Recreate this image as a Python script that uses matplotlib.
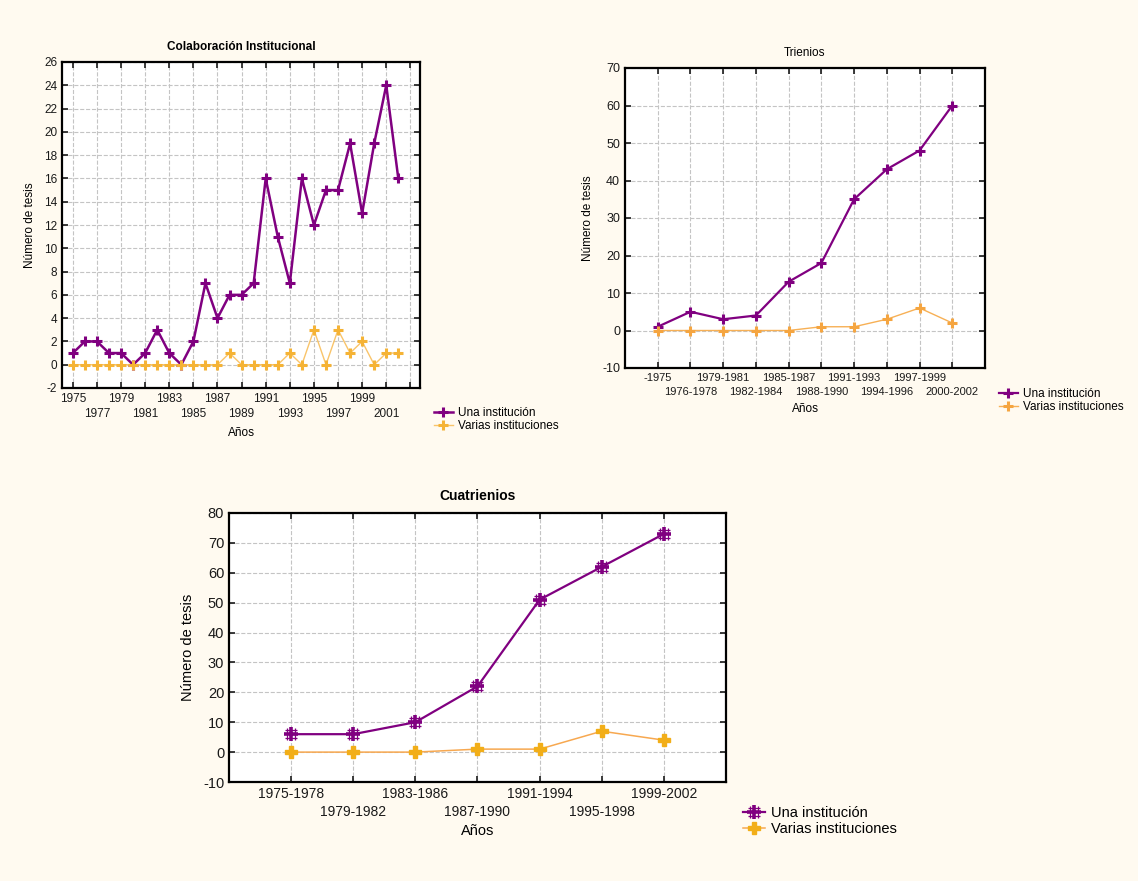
import numpy as np
import matplotlib
matplotlib.use('Agg')
import matplotlib.pyplot as plt
from matplotlib.path import Path

plt.rcParams['font.family'] = ['Liberation Sans', 'DejaVu Sans']
plt.rcParams['axes.unicode_minus'] = False

# --- data ---
years = list(range(1975, 2003))
una_anual = [1, 2, 2, 1, 1, 0, 1, 3, 1, 0, 2, 7, 4, 6, 6, 7, 16, 11, 7, 16,
             12, 15, 15, 19, 13, 19, 24, 16]
varias_anual = [0, 0, 0, 0, 0, 0, 0, 0, 0, 0, 0, 0, 0, 1, 0, 0, 0, 0, 1, 0,
                3, 0, 3, 1, 2, 0, 1, 1]

trienios = ['-1975', '1976-1978', '1979-1981', '1982-1984', '1985-1987',
            '1988-1990', '1991-1993', '1994-1996', '1997-1999', '2000-2002']
una_tri = [1, 5, 3, 4, 13, 18, 35, 43, 48, 60]
varias_tri = [0, 0, 0, 0, 0, 1, 1, 3, 6, 2]

cuatrienios = ['1975-1978', '1979-1982', '1983-1986', '1987-1990',
               '1991-1994', '1995-1998', '1999-2002']
una_cuat = [6, 6, 10, 22, 51, 62, 73]
varias_cuat = [0, 0, 0, 1, 1, 7, 4]

purple = '#800080'
orange = '#F5B335'
orange_line = '#F9C46A'
bg = '#FFFAF0'

fig = plt.figure(figsize=(11.38, 8.81), dpi=100, facecolor=bg)


def style_axes(ax, fs):
    ax.set_facecolor('white')
    ax.grid(True, which='both', linestyle='--', color='#c4c4c4', linewidth=0.8)
    ax.set_axisbelow(True)
    ax.tick_params(which='both', direction='in', top=True, right=True,
                   length=4, width=1.2, labelsize=fs, colors='#1a1a1a')
    for s in ax.spines.values():
        s.set_linewidth(1.6)
        s.set_color('black')


def two_row_ticks(ax, pos, labels, fs, gap):
    # first row on major ticks, second row on minor ticks
    ax.set_xticks(pos[0::2], labels[0::2])
    ax.set_xticks(pos[1::2], labels[1::2], minor=True)
    ax.tick_params(axis='x', which='both', labelsize=fs)
    ax.tick_params(axis='x', which='minor', pad=3.5 + gap)


# --- Colaboración Institucional ---
ax1 = fig.add_axes([62 / 1138, 1 - 388 / 881, 358 / 1138, 326 / 881])
style_axes(ax1, 8.5)
ax1.plot(years, una_anual, color=purple, lw=1.8, marker='+', ms=7, mew=2.2,
         label='Una institución')
ax1.plot(years, varias_anual, color=orange_line, lw=1.0, marker='+', ms=7,
         mew=2.2, mec=orange, label='Varias instituciones')
ax1.set_xlim(1974.1, 2003.8)
ax1.set_ylim(-2, 26)
ax1.set_yticks(np.arange(-2, 27, 2))
odd = list(range(1975, 2004, 2))
two_row_ticks(ax1, odd, [str(y) for y in odd[:-1]] + [''], 8.5, 11)
ax1.set_title('Colaboración Institucional', fontsize=8.5, fontweight='bold',
              pad=9)
ax1.set_xlabel('Años', fontsize=8.5, labelpad=5)
ax1.set_ylabel('Número de tesis', fontsize=8.5, labelpad=6)
ax1.legend(loc='upper left', bbox_to_anchor=(428 / 1138, 1 - 401 / 881),
           bbox_transform=fig.transFigure, frameon=False, fontsize=8.5,
           handlelength=1.6, handletextpad=0.4, labelspacing=0.1,
           borderpad=0)

# --- Trienios ---
ax2 = fig.add_axes([625 / 1138, 1 - 368 / 881, 360 / 1138, 300 / 881])
style_axes(ax2, 9)
x2 = list(range(1, len(trienios) + 1))
ax2.plot(x2, una_tri, color=purple, lw=1.6, marker='+', ms=7, mew=2.2,
         label='Una institución')
ax2.plot(x2, varias_tri, color='#F7B055', lw=1.0, marker='+', ms=7, mew=2.2,
         mec='#F5A540', label='Varias instituciones')
ax2.set_xlim(0, len(trienios) + 1)
ax2.set_ylim(-10, 70)
ax2.set_yticks(np.arange(-10, 71, 10))
two_row_ticks(ax2, x2, trienios, 8, 10.5)
ax2.set_title('Trienios', fontsize=8.5, pad=9)
ax2.set_xlabel('Años', fontsize=8.5, labelpad=4)
ax2.set_ylabel('Número de tesis', fontsize=8.5, labelpad=6)
ax2.legend(loc='upper left', bbox_to_anchor=(993 / 1138, 1 - 382 / 881),
           bbox_transform=fig.transFigure, frameon=False, fontsize=8.5,
           handlelength=1.6, handletextpad=0.4, labelspacing=0.1,
           borderpad=0)

# --- Cuatrienios ---
hash_marker = Path(
    [(-0.6, -1), (-0.6, 1), (0.6, -1), (0.6, 1),
     (-1, -0.6), (1, -0.6), (-1, 0.6), (1, 0.6)],
    [Path.MOVETO, Path.LINETO] * 4)

ax3 = fig.add_axes([229 / 1138, 1 - 782 / 881, 497 / 1138, 269 / 881])
style_axes(ax3, 10.5)
x3 = list(range(1, len(cuatrienios) + 1))
h_hash, = ax3.plot(x3, una_cuat, color=purple, lw=1.6, marker=hash_marker,
                   ms=9, mew=0.9)
h_plus, = ax3.plot(x3, una_cuat, color=purple, lw=0, marker='+', ms=10,
                   mew=2.6)
h_var, = ax3.plot(x3, varias_cuat, color='#F7A850', lw=1.1, marker='P', ms=9,
                  mfc='#F2AE18', mec='#F2AE18')
ax3.set_xlim(0, len(cuatrienios) + 1)
ax3.set_ylim(-10, 80)
ax3.set_yticks(np.arange(-10, 81, 10))
two_row_ticks(ax3, x3, cuatrienios, 10, 13)
ax3.set_title('Cuatrienios', fontsize=10, fontweight='bold', pad=9)
ax3.set_xlabel('Años', fontsize=10.5, labelpad=4)
ax3.set_ylabel('Número de tesis', fontsize=10.5, labelpad=6)
ax3.legend([(h_hash, h_plus), h_var],
           ['Una institución', 'Varias instituciones'],
           loc='upper left', bbox_to_anchor=(736 / 1138, 1 - 799 / 881),
           bbox_transform=fig.transFigure, frameon=False, fontsize=10.5,
           handlelength=1.5, handletextpad=0.4, labelspacing=0.1,
           borderpad=0)

fig.savefig('out.png', dpi=100, facecolor=bg)
